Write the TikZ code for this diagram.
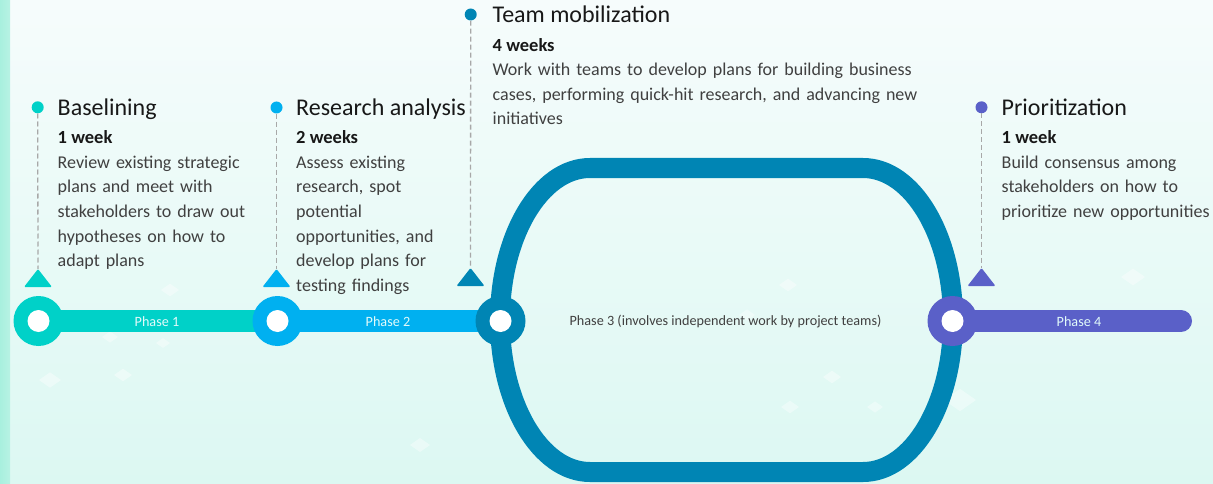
\documentclass[tikz,border=0pt]{standalone}
\usepackage{fontspec}
\setmainfont{Carlito}
\usetikzlibrary{calc}

\definecolor{cteal}{RGB}{0,209,200}
\definecolor{cblue}{RGB}{0,176,240}
\definecolor{cdeep}{RGB}{0,133,180}
\definecolor{cviolet}{RGB}{90,96,200}
\definecolor{ink}{RGB}{24,24,24}
\definecolor{bodyink}{RGB}{64,64,64}
\definecolor{dashgray}{RGB}{168,168,168}
\definecolor{bgtop}{RGB}{246,252,252}
\definecolor{bgbottom}{RGB}{220,248,242}
\definecolor{stripcol}{RGB}{168,240,222}
\definecolor{barlabel}{RGB}{225,250,250}

\tikzset{
  hub/.style={circle, fill=#1, minimum size=50pt, inner sep=0pt},
  hole/.style={circle, fill=white, minimum size=22pt, inner sep=0pt},
  pin/.style={circle, fill=#1, minimum size=12pt, inner sep=0pt},
  bar/.style={line width=22pt, draw=#1},
  leader/.style={draw=dashgray, line width=1.3pt, dash pattern=on 5pt off 3pt},
  headline/.style={anchor=base west, inner sep=0pt, text=ink, font=\fontsize{24}{29}\selectfont},
  duration/.style={anchor=base west, inner sep=0pt, text=ink, font=\fontsize{18.5}{22}\selectfont\bfseries},
  blurb/.style={anchor=base west, inner sep=0pt, text=bodyink, text width=#1, align=left,
                font=\fontsize{18}{24.6}\selectfont},
  phaselabel/.style={inner sep=0pt, text=barlabel, font=\fontsize{14.2}{16}\selectfont},
  sparkle/.style={fill=white, opacity=0.38},
}

% triangular marker with its base centred on the given point
\newcommand{\markerat}[2]{%
  \fill[#1, rounded corners=1.2pt] ($(#2)+(-14,0)$) -- ($(#2)+(0,-18)$) -- ($(#2)+(14,0)$) -- cycle;}

\begin{document}
\begin{tikzpicture}[x=1pt, y=-1pt]
  % backdrop
  \shade[top color=bgtop, bottom color=bgbottom] (0,0) rectangle (1213,484);
  \shade[left color=stripcol, right color=stripcol!70!bgbottom] (0,0) rectangle (10,484);
  \useasboundingbox (0,0) rectangle (1213,484);

  % faint diamonds in the backdrop
  \foreach \px/\py/\s in {50/380/11, 123/375/9, 163/343/7, 110/337/8, 170/290/9,
                          788/285/9, 747/315/8, 832/377/9, 790/407/9, 875/407/8,
                          1133/277/12, 960/400/16, 420/445/10}{
    \fill[sparkle] (\px-\s,\py) -- (\px,\py-0.7*\s) -- (\px+\s,\py) -- (\px,\py+0.7*\s) -- cycle;
  }

  % phase 3 loop
  \draw[cdeep, line width=20pt]
    (590,168) -- (863,168)
    arc[start angle=-90, end angle=90, x radius=90, y radius=152]
    -- (590,472)
    arc[start angle=90, end angle=270, x radius=90, y radius=152]
    -- cycle;

  % hubs on the timeline
  \coordinate (h1pos) at (38.5,321);
  \coordinate (h2pos) at (277.5,321);
  \coordinate (h3pos) at (500.5,321);
  \coordinate (h4pos) at (952.5,321);
  \coordinate (tail) at (1181,321);

  \draw[bar=cteal] (h1pos) -- (h2pos);
  \draw[bar=cblue] (h2pos) -- (h3pos);
  \draw[bar=cviolet, line cap=round] (h4pos) -- (tail);

  \node[hub=cteal] (h1) at (h1pos) {};
  \node[hub=cblue] (h2) at (h2pos) {};
  \node[hub=cdeep] (h3) at (h3pos) {};
  \node[hub=cviolet] (h4) at (h4pos) {};
  \node[hole] (o1) at (h1) {};
  \node[hole] (o2) at (h2) {};
  \node[hole] (o3) at (h3) {};
  \node[hole] (o4) at (h4) {};

  % phase labels
  \node[phaselabel] (p1) at (157,322) {Phase 1};
  \node[phaselabel] (p2) at (388,322) {Phase 2};
  \node[phaselabel, text=bodyink] (p3) at (725.5,322) {Phase 3 (involves independent work by project teams)};
  \node[phaselabel] (p4) at (1079,322) {Phase 4};

  % markers and dashed leaders
  \coordinate (m1) at (38,287);
  \coordinate (m2) at (276.5,287);
  \coordinate (m3) at (470.5,286);
  \coordinate (m4) at (981.5,286);
  \markerat{cteal}{m1}
  \markerat{cblue}{m2}
  \markerat{cdeep}{m3}
  \markerat{cviolet}{m4}

  \node[pin=cteal] (d1) at (37.7,107.3) {};
  \node[pin=cblue] (d2) at (276.5,107.5) {};
  \node[pin=cdeep] (d3) at (470.7,14.5) {};
  \node[pin=cviolet] (d4) at (981.5,107.3) {};

  \coordinate (a1) at ($(m1)+(0,-18)$);
  \coordinate (a2) at ($(m2)+(0,-18)$);
  \coordinate (a3) at ($(m3)+(0,-18)$);
  \coordinate (a4) at ($(m4)+(0,-18)$);
  \draw[leader] (d1.south) -- (a1);
  \draw[leader] (d2.south) -- (a2);
  \draw[leader] (d3.south) -- (a3);
  \draw[leader] (d4.south) -- (a4);

  % step 1
  \node[headline] (t1) at (57.5,116) {Baselining};
  \node[duration] (w1) at (57.5,144) {1 week};
  \node[blurb=210pt] (b1) at (57.5,168.3) {Review existing strategic\\plans and meet with\\stakeholders to draw out\\hypotheses on how to\\adapt plans};

  % step 2
  \node[headline] (t2) at (296,116) {Research analysis};
  \node[duration] (w2) at (296,144) {2 weeks};
  \node[blurb=190pt] (b2) at (296,168.3) {Assess existing\\research, spot\\potential\\opportunities, and\\develop plans for\\testing findings};

  % step 3
  \node[headline] (t3) at (492.5,22.7) {Team mobilization};
  \node[duration] (w3) at (492.5,51.7) {4 weeks};
  \node[blurb=460pt] (b3) at (492.5,75.5) {Work with teams to develop plans for building business\\cases, performing quick-hit research, and advancing new\\initiatives};

  % step 4
  \node[headline] (t4) at (1001.5,116) {Prioritization};
  \node[duration] (w4) at (1001.5,144) {1 week};
  \node[blurb=210pt] (b4) at (1001.5,168.3) {Build consensus among\\stakeholders on how to\\prioritize new opportunities};
\end{tikzpicture}
\end{document}
